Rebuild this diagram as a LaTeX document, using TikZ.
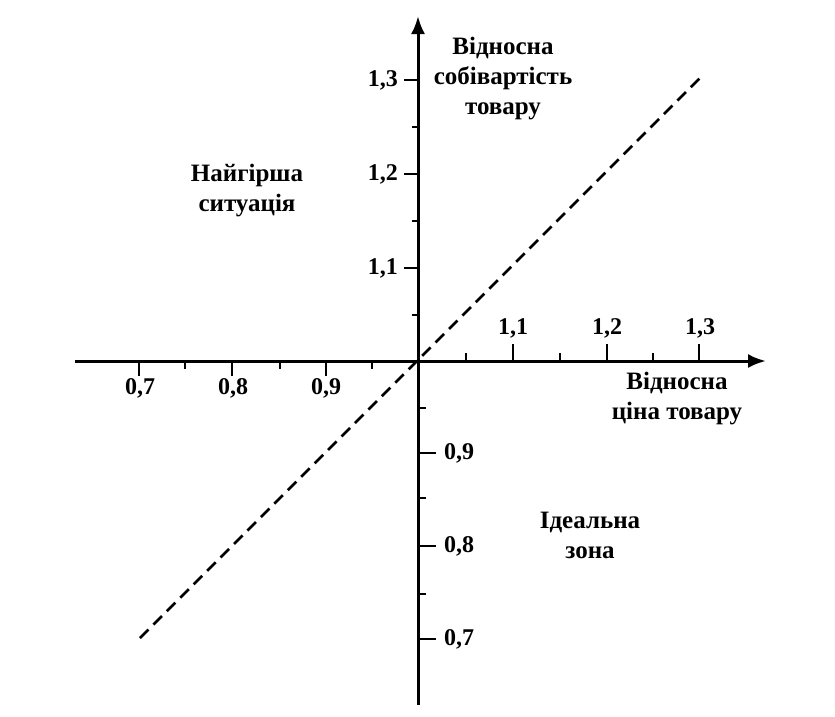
\documentclass[tikz,border=0pt]{standalone}
\usepackage{fontspec}
\setmainfont{Liberation Serif}
\usetikzlibrary{arrows.meta}
\begin{document}
\begin{tikzpicture}[x=1pt,y=-1pt,
  axis/.style={line width=3pt,-{Latex[length=18pt,width=14pt]}},
  tk/.style={line width=2.6pt},
  lbl/.style={font=\bfseries\fontsize{24}{28}\selectfont,inner sep=0pt},
  ttl/.style={font=\bfseries\fontsize{25}{30}\selectfont,align=center,inner sep=0pt},
  dline/.style={line width=2.8pt,dash pattern=on 12pt off 7pt}]
\useasboundingbox (0,0) rectangle (835,716);
\coordinate (O) at (418,361);
\coordinate (xl) at (75,361);
\coordinate (xr) at (766,361);
\coordinate (yb) at (418,705);
\coordinate (yt) at (418,16);
\draw[axis] (xl) -- (xr);
\draw[axis] (yb) -- (yt);
% left ticks (below)
\foreach \x in {139,232,326} \draw[tk] (\x,361) -- (\x,376);
\foreach \x in {185,280,372} \draw[tk] (\x,361) -- (\x,369);
% right ticks (above)
\foreach \x in {513,607,699} \draw[tk] (\x,361) -- (\x,344);
\foreach \x in {466,560,653} \draw[tk] (\x,361) -- (\x,353);
% upper ticks (left)
\foreach \y in {80,174,268} \draw[tk] (418,\y) -- (404,\y);
\foreach \y in {127,221,315} \draw[tk] (418,\y) -- (412,\y);
% lower ticks (right)
\foreach \y in {453,546,639} \draw[tk] (418,\y) -- (436,\y);
\foreach \y in {408,498,594} \draw[tk] (418,\y) -- (426,\y);
% labels
\node[lbl] (l07) at (140,388) {0,7};
\node[lbl] (l08) at (233,388) {0,8};
\node[lbl] (l09) at (326,388) {0,9};
\node[lbl] (r11) at (513,328) {1,1};
\node[lbl] (r12) at (607,328) {1,2};
\node[lbl] (r13) at (700,328) {1,3};
\node[lbl,anchor=east] (u13) at (398,80) {1,3};
\node[lbl,anchor=east] (u12) at (398,174) {1,2};
\node[lbl,anchor=east] (u11) at (398,268) {1,1};
\node[lbl,anchor=west] (d09) at (444,453) {0,9};
\node[lbl,anchor=west] (d08) at (444,546) {0,8};
\node[lbl,anchor=west] (d07) at (444,639) {0,7};
% dashed line
\coordinate (dA) at (140,638);
\coordinate (dB) at (700,78);
\draw[dline] (dA) -- (dB);
% titles
\node[ttl] (ty) at (503,79) {Відносна\\собівартість\\товару};
\node[ttl] (tx) at (677,399) {Відносна\\ціна товару};
\node[ttl] (tw) at (247,191) {Найгірша\\ситуація};
\node[ttl] (ti) at (590,535) {Ідеальна\\зона};
\end{tikzpicture}
\end{document}
